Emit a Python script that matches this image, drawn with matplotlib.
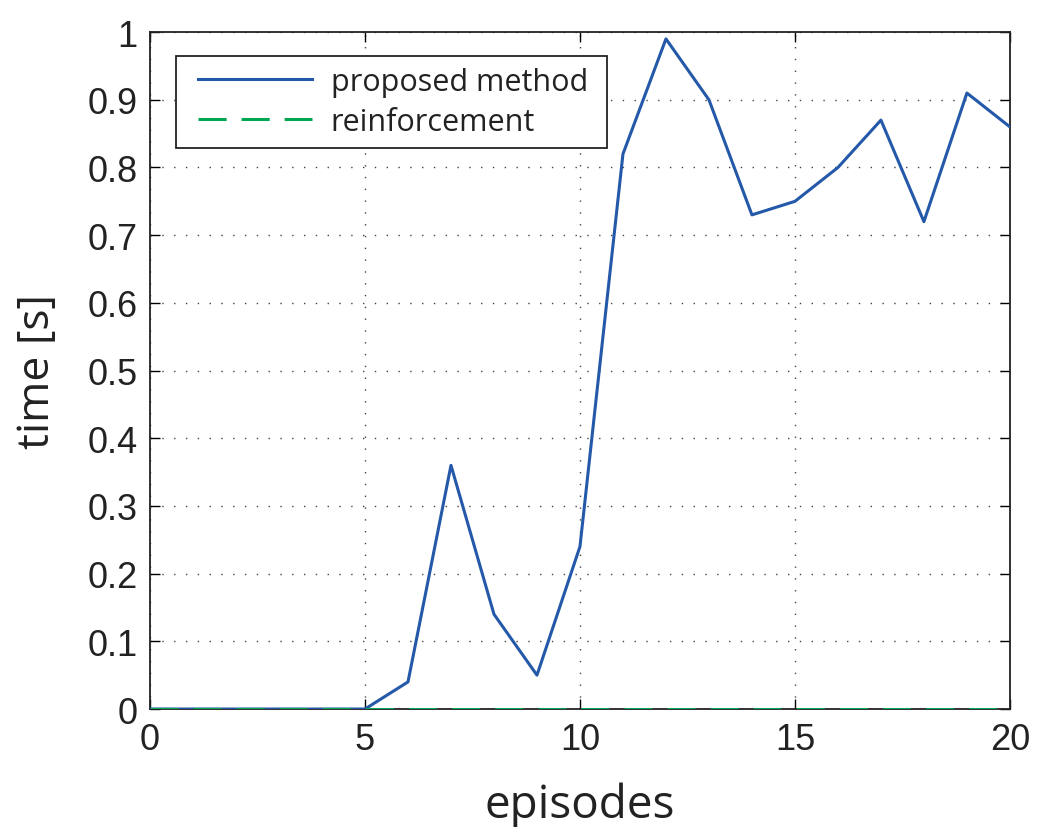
import matplotlib
matplotlib.use("Agg")
import matplotlib.pyplot as plt
from matplotlib.lines import Line2D
from matplotlib.legend_handler import HandlerLine2D

# data
episodes = list(range(0, 21))
proposed = [0, 0, 0, 0, 0, 0, 0.04, 0.36, 0.14, 0.05, 0.24,
            0.82, 0.99, 0.90, 0.73, 0.75, 0.80, 0.87, 0.72, 0.91, 0.86]
reinforcement = [0] * 21

x_ticks = [0, 5, 10, 15, 20]
y_ticks = [0, 0.1, 0.2, 0.3, 0.4, 0.5, 0.6, 0.7, 0.8, 0.9, 1]
y_tick_labels = ["0", "0.1", "0.2", "0.3", "0.4", "0.5", "0.6", "0.7", "0.8", "0.9", "1"]

fig = plt.figure(figsize=(10.39, 8.28), dpi=100)
ax = fig.add_axes([0.1444, 0.1425, 0.8276, 0.8175])

ax.plot(episodes, proposed, color="#2458a8", linewidth=2.2, label="proposed method", zorder=3)
ax.plot(episodes, reinforcement, color="#00a651", linewidth=2.2, linestyle=(0, (9.2, 4.9)),
        label="reinforcement", zorder=4)

ax.set_xlim(0, 20)
ax.set_ylim(0, 1)
ax.set_xticks(x_ticks)
ax.set_yticks(y_ticks)
ax.set_yticklabels(y_tick_labels)

ax.tick_params(direction="in", length=7, width=1, top=True, right=True,
               labelsize=26, pad=9)
for lab in ax.get_xticklabels() + ax.get_yticklabels():
    lab.set_fontfamily("Liberation Sans")
    lab.set_color("#222222")

ax.grid(True, color="#444444", linestyle=(0, (1, 7.5)), linewidth=1.0)
for sp in ax.spines.values():
    sp.set_linewidth(1.3)
    sp.set_color("#222222")

ax.set_xlabel("episodes", fontsize=33, family="Open Sans", labelpad=18, color="#222222")
ax.set_ylabel("time [s]", fontsize=32, family="Open Sans", labelpad=20, color="#222222")

# legend: fixed width box, line handles inset from the frame
leg = ax.legend(loc="upper left", bbox_to_anchor=(0.0302, 0.5, 0.501, 0.4645),
                mode="expand", prop={"family": "Open Sans", "size": 22},
                fancybox=False, framealpha=1, edgecolor="#222222",
                handlelength=4.1, handletextpad=0.6, borderpad=0.36,
                labelspacing=0.32, borderaxespad=0,
                handler_map={Line2D: HandlerLine2D(marker_pad=0, xpad=0.36)})
leg.get_frame().set_linewidth(1.3)
for t in leg.get_texts():
    t.set_color("#222222")

fig.savefig("out.png", dpi=100)
